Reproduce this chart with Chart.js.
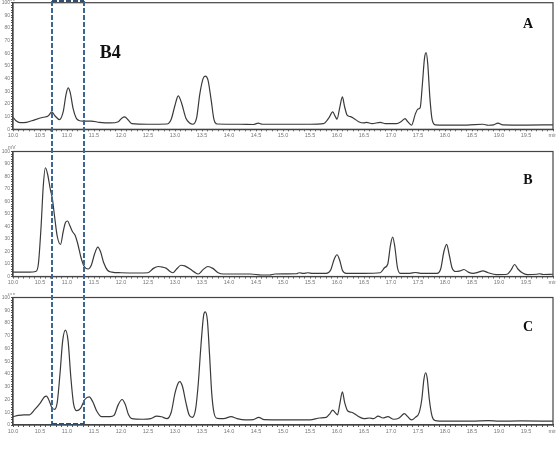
<!DOCTYPE html>
<html>
<head>
<meta charset="utf-8">
<script src="https://cdn.jsdelivr.net/npm/chart.js@4.4.1/dist/chart.umd.min.js"></script>
<style>
  body { margin: 0; background: #fff; }
  #wrap { position: relative; width: 556px; height: 452px; }
  canvas { position: absolute; left: 0; z-index: 1; }
  #overlay { pointer-events: none; z-index: 10; }
</style>
</head>
<body>
<div id="wrap">
  <canvas id="chartA" width="556" height="145" style="top:0px"></canvas>
  <canvas id="chartB" width="556" height="148" style="top:145px"></canvas>
  <canvas id="chartC" width="556" height="159" style="top:293px"></canvas>
  <canvas id="overlay" width="556" height="452" style="top:0px"></canvas>
</div>
<script>
// retention time (min) / signal (mV)
const timeA = [10.0, 10.05, 10.13, 10.25, 10.4, 10.56, 10.65, 10.72, 10.78, 10.86, 10.93, 10.98, 11.02, 11.06, 11.11, 11.17, 11.22, 11.3, 11.45, 11.6, 11.8, 11.95, 12.02, 12.07, 12.13, 12.2, 12.5, 12.85, 12.93, 13.0, 13.06, 13.12, 13.2, 13.27, 13.33, 13.4, 13.46, 13.52, 13.56, 13.61, 13.67, 13.72, 13.78, 14.2, 14.45, 14.54, 14.62, 15.0, 15.5, 15.75, 15.85, 15.92, 15.97, 16.0, 16.05, 16.1, 16.14, 16.19, 16.25, 16.3, 16.4, 16.5, 16.55, 16.65, 16.8, 16.9, 17.1, 17.2, 17.26, 17.31, 17.38, 17.45, 17.5, 17.54, 17.58, 17.62, 17.65, 17.68, 17.72, 17.76, 17.82, 18.0, 18.4, 18.7, 18.8, 18.9, 18.98, 19.07, 19.5, 20.0];
const signalA = [9.5, 7, 5.2, 5.5, 7.5, 9.5, 10.5, 13.7, 10.5, 7.7, 14, 27, 32.8, 29, 17, 9, 7, 6.5, 6.5, 5.5, 5, 6, 9, 9.8, 7.5, 4.5, 4, 4.2, 8, 19, 26.4, 21, 9, 5, 4, 9, 28, 40, 42, 39, 23, 8, 4.2, 4, 3.8, 4.8, 4, 4, 4, 4.5, 9, 13.7, 10, 8, 17, 25.6, 18, 11, 10, 9, 6, 5, 5.5, 4.5, 5.5, 4.5, 4.5, 6.5, 8.5, 6, 3.2, 12, 16, 17, 35, 56, 60.6, 52, 25, 8, 3.5, 3.3, 3.3, 4, 3.2, 3.5, 4.8, 3.5, 3.3, 3.5];

const timeB = [10.0, 10.3, 10.42, 10.47, 10.52, 10.56, 10.6, 10.64, 10.69, 10.73, 10.77, 10.82, 10.88, 10.93, 10.97, 11.01, 11.05, 11.1, 11.15, 11.2, 11.26, 11.32, 11.39, 11.45, 11.51, 11.57, 11.62, 11.68, 11.75, 11.83, 12.0, 12.3, 12.5, 12.6, 12.69, 12.77, 12.84, 12.91, 12.96, 13.03, 13.11, 13.18, 13.28, 13.36, 13.43, 13.52, 13.61, 13.7, 13.8, 13.9, 14.4, 14.6, 14.75, 14.85, 15.25, 15.3, 15.38, 15.46, 15.55, 15.8, 15.88, 15.95, 16.0, 16.05, 16.1, 16.17, 16.5, 16.8, 16.88, 16.94, 16.99, 17.03, 17.07, 17.12, 17.17, 17.35, 17.45, 17.55, 17.85, 17.92, 17.98, 18.03, 18.08, 18.13, 18.2, 18.28, 18.35, 18.43, 18.52, 18.62, 18.7, 18.8, 18.95, 19.15, 19.22, 19.29, 19.35, 19.43, 19.52, 19.7, 19.75, 19.82, 20.0];
const signalB = [3.5, 3.5, 4, 10, 40, 72, 87, 82, 70, 62, 48, 32, 25.7, 36, 43, 44.4, 41, 36, 33, 26, 15, 8, 6, 9, 18, 23.5, 20, 11, 5, 3.5, 3, 2.8, 3, 6.5, 8, 7.5, 6.5, 4, 3, 6, 9, 8.5, 6, 3.5, 2, 5.5, 8, 6.5, 3, 2, 2, 1.2, 1.2, 2, 2.2, 3, 2.5, 3, 2.5, 2.5, 5, 14, 17.4, 13, 5, 2.5, 2.5, 3, 7, 10, 25, 31.6, 24, 7, 2.5, 2.5, 3.2, 2.5, 2.5, 6, 20, 25.7, 17, 7, 4, 4.5, 5.6, 3.5, 2.5, 3.5, 4.5, 3, 1.5, 1.8, 5, 9.6, 6, 3, 1.5, 1.8, 2.2, 1.6, 1.8];

const timeC = [10.0, 10.1, 10.2, 10.3, 10.4, 10.5, 10.58, 10.62, 10.67, 10.72, 10.77, 10.82, 10.87, 10.92, 10.97, 11.02, 11.07, 11.12, 11.18, 11.25, 11.33, 11.41, 11.48, 11.55, 11.64, 11.8, 11.87, 11.95, 12.02, 12.08, 12.14, 12.2, 12.4, 12.55, 12.66, 12.75, 12.85, 12.93, 13.0, 13.06, 13.09, 13.14, 13.2, 13.26, 13.32, 13.38, 13.43, 13.48, 13.53, 13.56, 13.6, 13.64, 13.68, 13.72, 13.78, 13.9, 14.04, 14.15, 14.3, 14.45, 14.55, 14.65, 15.0, 15.5, 15.68, 15.8, 15.87, 15.92, 15.97, 16.01, 16.05, 16.1, 16.14, 16.2, 16.27, 16.35, 16.43, 16.5, 16.6, 16.68, 16.76, 16.85, 16.94, 17.05, 17.15, 17.2, 17.25, 17.3, 17.38, 17.45, 17.52, 17.57, 17.61, 17.64, 17.67, 17.71, 17.76, 17.82, 18.0, 18.5, 18.8, 19.0, 19.4, 20.0];
const signalC = [6.5, 7.5, 8, 8, 12, 17, 22, 22.7, 19, 13.5, 12.3, 18, 40, 66, 74.4, 66, 38, 17, 11.2, 13, 20, 22, 18, 11, 6.5, 6.5, 7.5, 16, 20, 16, 8, 5, 4.5, 5, 7, 6.5, 5, 10, 25, 33, 34, 30, 18, 8, 6, 12, 32, 62, 86, 88.7, 82, 55, 25, 10, 5.2, 5, 6.5, 5, 4, 4.2, 6, 4.2, 4, 4, 5.5, 6, 9, 11.7, 9.5, 8, 16, 26, 18, 11, 10, 8, 6, 5, 5.5, 5, 7, 5.5, 6.5, 4.5, 5.5, 7.5, 9, 7, 4, 6, 9.5, 20, 36, 41, 37, 20, 7, 3.5, 3, 3, 3.5, 3, 3.2, 3];

const panelLabels = ['A', 'B', 'C'];
const boxRange = [10.72, 11.31];      // dashed box around B4, in minutes
const boxLabel = 'B4';
const timeMin = 10, timeMax = 20;

const panels = [
    { id: 'chartA', t: timeA, v: signalA, padTop: 2.7, xHeight: 15.7, letterDy: 22 },
    { id: 'chartB', t: timeB, v: signalB, padTop: 6.5, xHeight: 16.5, letterDy: 29 },
    { id: 'chartC', t: timeC, v: signalC, padTop: 4.5, xHeight: 27, letterDy: 30 }
];

function makePlugin(idx) {
    return {
        id: 'decor' + idx,
        afterDraw(chart) {
            const ctx = chart.ctx;
            const a = chart.chartArea;
            const x = chart.scales.x, y = chart.scales.y;
            ctx.save();
            // frame
            ctx.strokeStyle = '#444';
            ctx.lineWidth = 1.2;
            ctx.strokeRect(a.left, a.top, a.right - a.left, a.bottom - a.top);

            // unit
            ctx.fillStyle = '#777';
            ctx.font = '5px "Liberation Sans"';
            ctx.textAlign = 'left';
            ctx.textBaseline = 'bottom';
            ctx.fillText('mV', a.left - 5, a.top - 1);

            // panel letter
            ctx.fillStyle = '#111';
            ctx.font = 'bold 14px "Liberation Serif"';
            ctx.textAlign = 'center';
            ctx.textBaseline = 'middle';
            ctx.fillText(panelLabels[idx], a.right - 25, a.top + panels[idx].letterDy);

            if (idx === 0) {
                ctx.font = 'bold 18px "Liberation Serif"';
                ctx.fillText(boxLabel, x.getPixelForValue(11.8), y.getPixelForValue(60));
            }
            ctx.restore();
        }
    };
}

const charts = panels.map(function(p, idx) {
    const data = p.t.map((t, i) => ({ x: t, y: p.v[i] }));
    return new Chart(document.getElementById(p.id), {
        type: 'line',
        data: {
            datasets: [{
                data: data,
                borderColor: '#3a3a3a',
                borderWidth: 1.2,
                pointRadius: 0,
                cubicInterpolationMode: 'monotone',
                fill: false
            }]
        },
        options: {
            responsive: false,
            animation: false,
            layout: { padding: { top: p.padTop, right: 3, left: 0, bottom: 0 } },
            plugins: { legend: { display: false }, tooltip: { enabled: false } },
            scales: {
                x: {
                    type: 'linear',
                    min: timeMin,
                    max: timeMax,
                    afterFit: function(s) { s.height = p.xHeight; s.paddingLeft = 0; s.paddingRight = 0; },
                    grid: { drawOnChartArea: false, tickLength: 2, color: '#555' },
                    border: { color: '#444', width: 1.2 },
                    ticks: {
                        stepSize: 0.1,
                        autoSkip: false,
                        maxRotation: 0,
                        minRotation: 0,
                        padding: 1,
                        color: '#777',
                        font: { size: 5.5, family: 'Liberation Sans' },
                        callback: function(value) {
                            const n = Math.round(value * 10);
                            if (n % 5 !== 0) return '';
                            return n === 200 ? 'min' : (n / 10).toFixed(1);
                        }
                    }
                },
                y: {
                    min: 0,
                    max: 100,
                    afterFit: function(s) { s.width = 13; s.paddingTop = 0; s.paddingBottom = 0; },
                    grid: { drawOnChartArea: false, tickLength: 2, color: '#555' },
                    border: { color: '#444', width: 1.2 },
                    ticks: {
                        stepSize: 2,
                        autoSkip: false,
                        padding: 1,
                        color: '#777',
                        font: { size: 5, family: 'Liberation Sans' },
                        callback: function(value) {
                            return value % 10 === 0 ? String(value) : '';
                        }
                    }
                }
            }
        },
        plugins: [makePlugin(idx)]
    });
});

// dashed box across all three panels, placed with panel A's time scale
function drawBox() {
    const ov = document.getElementById('overlay');
    const ctx = ov.getContext('2d');
    const xs = charts[0].scales.x;
    const x1 = Math.round(xs.getPixelForValue(boxRange[0]));
    const x2 = Math.round(xs.getPixelForValue(boxRange[1]));
    const yTop = 1;
    const yBot = document.getElementById('chartC').offsetTop + charts[2].chartArea.bottom - 1;

    ctx.clearRect(0, 0, ov.width, ov.height);
    ctx.save();
    ctx.lineWidth = 2;
    ctx.setLineDash([5, 2]);
    ctx.strokeStyle = '#3a6794';
    ctx.beginPath();
    ctx.moveTo(x1, yTop); ctx.lineTo(x1, yBot);
    ctx.moveTo(x2, yTop); ctx.lineTo(x2, yBot);
    ctx.stroke();
    ctx.strokeStyle = '#2f4f70';
    ctx.beginPath();
    ctx.moveTo(x1, yTop); ctx.lineTo(x2, yTop);
    ctx.moveTo(x1, yBot); ctx.lineTo(x2, yBot);
    ctx.stroke();
    ctx.restore();
}
drawBox();
</script>
</body>
</html>
